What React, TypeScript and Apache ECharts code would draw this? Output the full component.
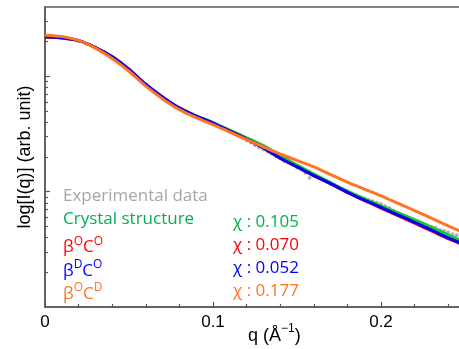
import React, { useEffect, useRef } from "react";
import * as echarts from "echarts";

// Fitted curves sampled on a common q grid (Å^-1), values are log10 I(q)
const fitQ = [0, 0.01, 0.02, 0.03, 0.04, 0.05, 0.06, 0.07, 0.08, 0.09, 0.1, 0.11, 0.12, 0.13, 0.14, 0.15, 0.16, 0.17, 0.18, 0.19, 0.2, 0.21, 0.22, 0.23, 0.24, 0.25];
const crystalLogI = [2.344, 2.335, 2.31, 2.25, 2.17, 2.06, 1.93, 1.82, 1.727, 1.658, 1.6, 1.535, 1.468, 1.4, 1.315, 1.232, 1.152, 1.08, 1.005, 0.94, 0.876, 0.818, 0.757, 0.693, 0.625, 0.56];
const boCoLogI = [2.342, 2.334, 2.31, 2.25, 2.17, 2.06, 1.93, 1.82, 1.725, 1.655, 1.595, 1.525, 1.455, 1.38, 1.29, 1.215, 1.14, 1.07, 0.993, 0.925, 0.858, 0.793, 0.727, 0.66, 0.592, 0.532];
const bdCoLogI = [2.344, 2.335, 2.31, 2.25, 2.17, 2.06, 1.93, 1.82, 1.725, 1.655, 1.595, 1.525, 1.455, 1.38, 1.29, 1.215, 1.14, 1.07, 0.995, 0.928, 0.864, 0.8, 0.735, 0.668, 0.6, 0.54];
const boCdLogI = [2.357, 2.345, 2.312, 2.245, 2.155, 2.045, 1.915, 1.805, 1.712, 1.642, 1.582, 1.517, 1.452, 1.387, 1.328, 1.271, 1.215, 1.149, 1.083, 1.023, 0.964, 0.9, 0.836, 0.77, 0.704, 0.64];

// Experimental data (q, log10 I)
const expQ = [0.005, 0.01, 0.015, 0.02, 0.025, 0.03, 0.035, 0.04, 0.045, 0.05, 0.055, 0.06, 0.065, 0.07, 0.075, 0.08, 0.085, 0.09, 0.095, 0.1, 0.105, 0.11, 0.115,
  0.1175, 0.12, 0.1225, 0.125, 0.1275, 0.13, 0.1325, 0.135, 0.1375, 0.14, 0.1425, 0.145, 0.1475, 0.15, 0.1525, 0.155, 0.1575, 0.16, 0.1625, 0.165, 0.1675, 0.17, 0.1725, 0.175, 0.1775, 0.18, 0.1825, 0.185, 0.1875, 0.19, 0.1925, 0.195, 0.1975, 0.2, 0.2025, 0.205, 0.2075, 0.21, 0.2125, 0.215, 0.2175, 0.22, 0.2225, 0.225, 0.2275, 0.23, 0.2325, 0.235, 0.2375, 0.24, 0.2425, 0.245, 0.2475, 0.25];
const expLogI = [2.342, 2.336, 2.325, 2.308, 2.283, 2.251, 2.212, 2.168, 2.118, 2.062, 1.997, 1.932, 1.874, 1.82, 1.77, 1.726, 1.688, 1.655, 1.626, 1.596, 1.561, 1.523, 1.488,
  1.468, 1.447, 1.428, 1.405, 1.385, 1.366, 1.348, 1.33, 1.31, 1.29, 1.268, 1.252, 1.236, 1.212, 1.195, 1.165, 1.12, 1.14, 1.122, 1.107, 1.09, 1.07, 1.055, 1.036, 1.02, 1.001, 0.985, 0.97, 0.953, 0.941, 0.928, 0.918, 0.905, 0.893, 0.875, 0.858, 0.836, 0.816, 0.796, 0.782, 0.76, 0.748, 0.735, 0.722, 0.705, 0.695, 0.688, 0.668, 0.66, 0.648, 0.632, 0.622, 0.607, 0.59];

const xTickLabels = ["0", "0.1", "0.2"];
const xTickValues = [0, 0.1, 0.2];
const xMinorTickValues = [0.02, 0.04, 0.06, 0.08, 0.12, 0.14, 0.16, 0.18, 0.22, 0.24, 0.26, 0.28];
const yMajorTicks = [10, 100];
const yMinorTicks = [2, 3, 4, 5, 6, 7, 8, 9, 20, 30, 40, 50, 60, 70, 80, 90, 200, 300];
const yMaxIntensity = 400;

const legendRows = [
  { label: "Experimental data", sup: null, color: "#A6A6A6", chi: null },
  { label: "Crystal structure", sup: null, color: "#00B050", chi: "0.105" },
  { label: "βOCO", sup: ["O", "O"], color: "#FF0000", chi: "0.070" },
  { label: "βDCO", sup: ["D", "O"], color: "#0000FF", chi: "0.052" },
  { label: "βOCD", sup: ["O", "D"], color: "#FF7424", chi: "0.177" },
];

const COLORS = {
  exp: "#A0A0A0",
  crystal: "#19C832",
  boco: "#FF0000",
  bdco: "#0000FF",
  bocd: "#FF7424",
  axis: "#5A5A5A",
};

function pairs(xs: number[], ys: number[]) {
  return xs.map((x, i) => [x, ys[i]]);
}

export default function App() {
  const ref = useRef<HTMLDivElement>(null);
  useEffect(() => {
    if (!ref.current) return;
    document.documentElement.style.overflow = "hidden";
    document.body.style.overflow = "hidden";
    const chart = echarts.init(ref.current, null, { renderer: "svg" });
    const legendFont = "'Open Sans', 'Noto Sans', sans-serif";
    const rowY0 = 197;
    const rowStep = 23.2;
    const legendGraphics: any[] = [];
    legendRows.forEach((r, i) => {
      const y = rowY0 + i * rowStep;
      let text: string;
      if (r.sup) {
        text = `{b|β}{s|${r.sup[0]}}{b|C}{s|${r.sup[1]}}`;
      } else {
        text = `{b|${r.label}}`;
      }
      legendGraphics.push({
        type: "text",
        left: 63,
        top: y - 11,
        style: {
          text,
          rich: {
            b: { fontSize: 17, fontFamily: legendFont, fill: r.color, lineHeight: 22, verticalAlign: "bottom" },
            s: { fontSize: 12, fontFamily: legendFont, fill: r.color, lineHeight: 22, verticalAlign: "top", padding: [2, 0, 0, 0] },
          },
        },
      });
      if (r.chi) {
        legendGraphics.push({
          type: "text",
          left: 233,
          top: y - 11,
          style: {
            text: `χ : ${r.chi}`,
            fontSize: 17,
            lineHeight: 22,
            fontFamily: legendFont,
            fill: r.color,
          },
        });
      }
    });

    const option: any = {
      animation: false,
      grid: {
        left: 45,
        top: 7,
        bottom: 42,
        right: 0,
        show: true,
        borderColor: COLORS.axis,
        borderWidth: 1.5,
        backgroundColor: "transparent",
      },
      xAxis: [
        {
          type: "value",
          min: 0,
          max: 0.3,
          interval: 0.1,
          axisLine: { show: true, lineStyle: { color: COLORS.axis, width: 1.5 } },
          axisTick: { show: true, inside: true, length: 5, customValues: xTickValues, lineStyle: { color: COLORS.axis, width: 1.2 } },
          axisLabel: {
            show: true,
            customValues: xTickValues,
            margin: 6,
            fontSize: 17,
            fontFamily: "'Liberation Sans', Arial, sans-serif",
            color: "#000",
            formatter: (v: number) => {
              const idx = xTickValues.findIndex((t) => Math.abs(t - v) < 1e-9);
              return idx >= 0 ? xTickLabels[idx] : "";
            },
          },
          splitLine: { show: false },
        },
        {
          type: "value",
          min: 0,
          max: 0.3,
          position: "bottom",
          offset: 0,
          axisLine: { show: false },
          axisTick: { show: true, inside: true, length: 3, customValues: xMinorTickValues, lineStyle: { color: COLORS.axis, width: 1.2 } },
          axisLabel: { show: false },
          splitLine: { show: false },
        },
      ],
      yAxis: [
        {
          type: "value",
          min: 0,
          max: Math.log10(yMaxIntensity),
          position: "left",
          axisLine: { show: true, lineStyle: { color: COLORS.axis, width: 1.5 } },
          axisTick: { show: true, inside: true, length: 5, customValues: yMajorTicks.map((v) => Math.log10(v)), lineStyle: { color: COLORS.axis, width: 1.2 } },
          axisLabel: { show: false },
          splitLine: { show: false },
          name: "log[I(q)] (arb. unit)",
          nameLocation: "middle",
          nameGap: 12,
          nameTextStyle: { fontSize: 18, fontFamily: "'Liberation Sans', Arial, sans-serif", color: "#000" },
        },
        {
          type: "value",
          min: 0,
          max: Math.log10(yMaxIntensity),
          position: "left",
          offset: 0,
          axisLine: { show: false },
          axisTick: { show: true, inside: true, length: 3, customValues: yMinorTicks.map((v) => Math.log10(v)), lineStyle: { color: COLORS.axis, width: 1.2 } },
          axisLabel: { show: false },
          splitLine: { show: false },
        },
      ],
      graphic: [
        ...legendGraphics,
        {
          type: "text",
          left: 248,
          top: 322,
          style: {
            text: "{n|q (Å}{s|−1}{n|)}",
            rich: {
              n: { fontSize: 18, fontFamily: "'Liberation Sans', Arial, sans-serif", fill: "#000", lineHeight: 22, verticalAlign: "bottom" },
              s: { fontSize: 12, fontFamily: "'Liberation Sans', Arial, sans-serif", fill: "#000", lineHeight: 22, verticalAlign: "top" },
            },
          },
        },
      ],
      series: [
        {
          name: "Experimental data",
          type: "scatter",
          data: pairs(expQ, expLogI),
          symbol: "circle",
          symbolSize: 4,
          itemStyle: { color: COLORS.exp },
          clip: true,
          z: 1,
        },
        {
          name: "Crystal structure",
          type: "line",
          data: pairs(fitQ, crystalLogI),
          smooth: 0.3,
          showSymbol: false,
          lineStyle: { color: COLORS.crystal, width: 3 },
          z: 2,
        },
        {
          name: "βOCO",
          type: "line",
          data: pairs(fitQ, boCoLogI),
          smooth: 0.3,
          showSymbol: false,
          lineStyle: { color: COLORS.boco, width: 3 },
          z: 3,
        },
        {
          name: "βDCO",
          type: "line",
          data: pairs(fitQ, bdCoLogI),
          smooth: 0.3,
          showSymbol: false,
          lineStyle: { color: COLORS.bdco, width: 3 },
          z: 4,
        },
        {
          name: "βOCD",
          type: "line",
          data: pairs(fitQ, boCdLogI),
          smooth: 0.3,
          showSymbol: false,
          lineStyle: { color: COLORS.bocd, width: 3 },
          z: 5,
        },
      ],
    };
    chart.setOption(option);
    return () => chart.dispose();
  }, []);
  return <div ref={ref} style={{ position: "fixed", left: 0, top: 0, width: 549, height: 349 }} />;
}
